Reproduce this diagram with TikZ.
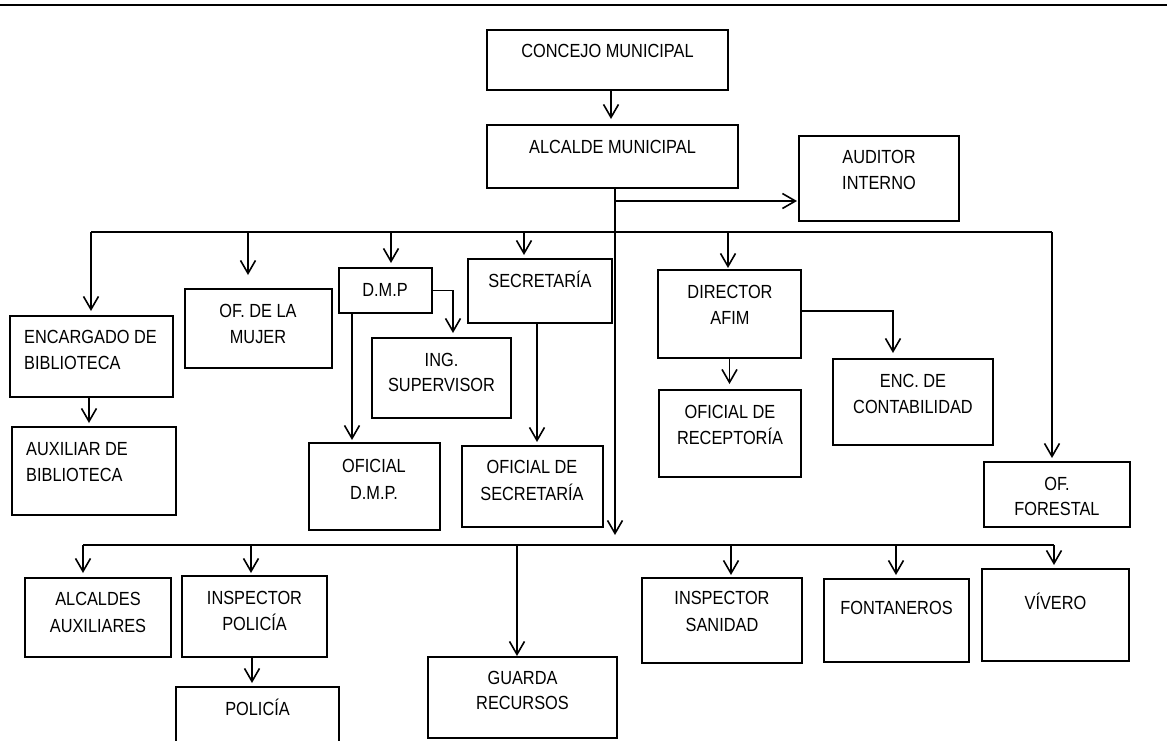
\documentclass[tikz,border=0pt]{standalone}
\usepackage{fontspec}
\setmainfont{Liberation Sans}[FakeStretch=0.86]
\usetikzlibrary{arrows.meta,fit}
\newcommand\mybox[5]{\node[box, fit={(#2,#3) (#4,#5)}] (#1) {};}
\newcommand\mytext[4]{\node[txt] (#1) at (#2,{#3+6.8}) {#4};}
\newcommand\mytextl[4]{\node[txtl] (#1) at (#2,{#3+6.8}) {#4};}
\begin{document}
\begin{tikzpicture}[x=1pt,y=-1pt,
  ln/.style={line width=1.6pt},
  box/.style={draw, line width=1.5pt, inner sep=0pt, outer sep=0pt},
  arr/.style={ln, -{Straight Barb[length=13pt,width=15pt]}, shorten >=4pt},
  txt/.style={anchor=base, inner sep=0pt, font=\fontsize{19}{26}\selectfont},
  txtl/.style={txt, anchor=base west}]
\useasboundingbox (0,0) rectangle (1167,740);
\clip (0,0) rectangle (1167,740);
\fill[white] (0,0) rectangle (1167,740);
\draw[line width=2pt] (0,5) -- (1167,5);

% boxes
\mybox{concejo}{487}{30}{728}{90}
\mybox{alcalde}{487}{125}{738}{188}
\mybox{auditor}{799}{136}{959}{221}
\mybox{enc}{10}{316}{173}{397}
\mybox{aux}{12}{427}{176}{515}
\mybox{mujer}{185}{289}{332}{368}
\mybox{dmp}{339}{268}{432}{313}
\mybox{ing}{372}{338}{511}{418}
\mybox{ofdmp}{309}{443}{440}{530}
\mybox{secr}{468}{259}{612}{323}
\mybox{ofsecr}{462}{446}{603}{527}
\mybox{director}{658}{270}{801}{358}
\mybox{recept}{659}{390}{801}{477}
\mybox{enccont}{833}{359}{993}{445}
\mybox{forestal}{984}{462}{1130}{527}
\mybox{alcaldes}{25}{578}{171}{657}
\mybox{inspol}{182}{576}{327}{657}
\mybox{policia}{176}{687}{339}{748}
\mybox{guarda}{428}{657}{617}{738}
\mybox{sanidad}{642}{578}{802}{663}
\mybox{fonta}{824}{579}{969}{662}
\mybox{vivero}{982}{569}{1129}{661}

% texts
\mytext{concejo-t}{607.5}{51}{CONCEJO MUNICIPAL}
\mytext{alcalde-t}{612.5}{147}{ALCALDE MUNICIPAL}
\mytext{auditor-a}{879}{157}{AUDITOR}
\mytext{auditor-b}{879}{183}{INTERNO}
\mytextl{enc-a}{24}{337}{ENCARGADO DE}
\mytextl{enc-b}{24}{363}{BIBLIOTECA}
\mytextl{aux-a}{26}{449}{AUXILIAR DE}
\mytextl{aux-b}{26}{475}{BIBLIOTECA}
\mytext{mujer-a}{258}{311}{OF. DE LA}
\mytext{mujer-b}{258}{337}{MUJER}
\mytext{dmp-t}{385}{290}{D.M.P}
\mytext{ing-a}{441.5}{360}{ING.}
\mytext{ing-b}{441.5}{385}{SUPERVISOR}
\mytext{ofdmp-a}{374}{466}{OFICIAL}
\mytext{ofdmp-b}{374}{493}{D.M.P.}
\mytext{secr-t}{540}{281}{SECRETARÍA}
\mytext{ofsecr-a}{532}{467}{OFICIAL DE}
\mytext{ofsecr-b}{532}{494}{SECRETARÍA}
\mytext{director-a}{730}{292}{DIRECTOR}
\mytext{director-b}{730}{318}{AFIM}
\mytext{recept-a}{730}{412}{OFICIAL DE}
\mytext{recept-b}{730}{438}{RECEPTORÍA}
\mytext{enccont-a}{913}{381}{ENC. DE}
\mytext{enccont-b}{913}{407}{CONTABILIDAD}
\mytext{forestal-a}{1057}{484}{OF.}
\mytext{forestal-b}{1057}{509}{FORESTAL}
\mytext{alcaldes-a}{98}{599}{ALCALDES}
\mytext{alcaldes-b}{98}{626}{AUXILIARES}
\mytext{inspol-a}{254.5}{598}{INSPECTOR}
\mytext{inspol-b}{254.5}{624}{POLICÍA}
\mytext{policia-t}{257.5}{709}{POLICÍA}
\mytext{guarda-a}{522.5}{678}{GUARDA}
\mytext{guarda-b}{522.5}{703}{RECURSOS}
\mytext{sanidad-a}{722}{598}{INSPECTOR}
\mytext{sanidad-b}{722}{625}{SANIDAD}
\mytext{fonta-t}{896.5}{608}{FONTANEROS}
\mytext{vivero-t}{1055.5}{603}{VÍVERO}

% coordinates
\coordinate (cm) at (611,0);
\coordinate (trk) at (615,0);
\coordinate (au) at (615,201);
\coordinate (tl) at (91,232);
\coordinate (tr) at (1052,232);
\coordinate (b2) at (248,232);
\coordinate (b3) at (391,232);
\coordinate (b4) at (524,232);
\coordinate (b5) at (728,232);
\coordinate (c1) at (89,0);
\coordinate (c2) at (352,0);
\coordinate (c3) at (453,0);
\coordinate (c4) at (537,0);
\coordinate (c5) at (893,311);
\coordinate (lb) at (83,545);
\coordinate (rb) at (1054,545);
\coordinate (d2) at (251,545);
\coordinate (d3) at (517,545);
\coordinate (d4) at (731,545);
\coordinate (d5) at (896,545);
\coordinate (e1) at (252,0);

% connectors
\draw[arr, shorten >=6pt] (concejo.south -| cm) -- (cm |- alcalde.north);
\draw[arr, shorten >=10pt] (alcalde.south -| trk) -- (trk |- lb);
\draw[arr, shorten >=2pt] (au) -- (au -| auditor.west);

\draw[ln] (tl) -- (tr);
\draw[arr, shorten >=5pt] (tl) -- (tl |- enc.north);
\draw[arr, shorten >=14pt] (b2) -- (b2 |- mujer.north);
\draw[arr, shorten >=5pt] (b3) -- (b3 |- dmp.north);
\draw[arr] (b4) -- (b4 |- secr.north);
\draw[arr, shorten >=2pt] (b5) -- (b5 |- director.north);
\draw[arr] (tr) -- (tr |- forestal.north);

\draw[arr] (c1 |- enc.south) -- (c1 |- aux.north);
\draw[arr, shorten >=3pt] (c2 |- dmp.south) -- (c2 |- ofdmp.north);
\draw[arr, shorten >=5pt] (dmp.east) -| (c3 |- ing.north);
\draw[arr] (c4 |- secr.south) -- (c4 |- ofsecr.north);
\draw[arr, shorten >=6pt] (director.south) -- (director.south |- recept.north);
\draw[arr, shorten >=6pt] (director.east |- c5) -| (c5 |- enccont.north);

\draw[ln] (lb) -- (rb);
\draw[arr, shorten >=5pt] (lb) -- (lb |- alcaldes.north);
\draw[arr, shorten >=3pt] (d2) -- (d2 |- inspol.north);
\draw[arr, shorten >=1pt] (d3) -- (d3 |- guarda.north);
\draw[arr, shorten >=3pt] (d4) -- (d4 |- sanidad.north);
\draw[arr] (d5) -- (d5 |- fonta.north);
\draw[arr] (rb) -- (rb |- vivero.north);
\draw[arr] (e1 |- inspol.south) -- (e1 |- policia.north);
\end{tikzpicture}
\end{document}
